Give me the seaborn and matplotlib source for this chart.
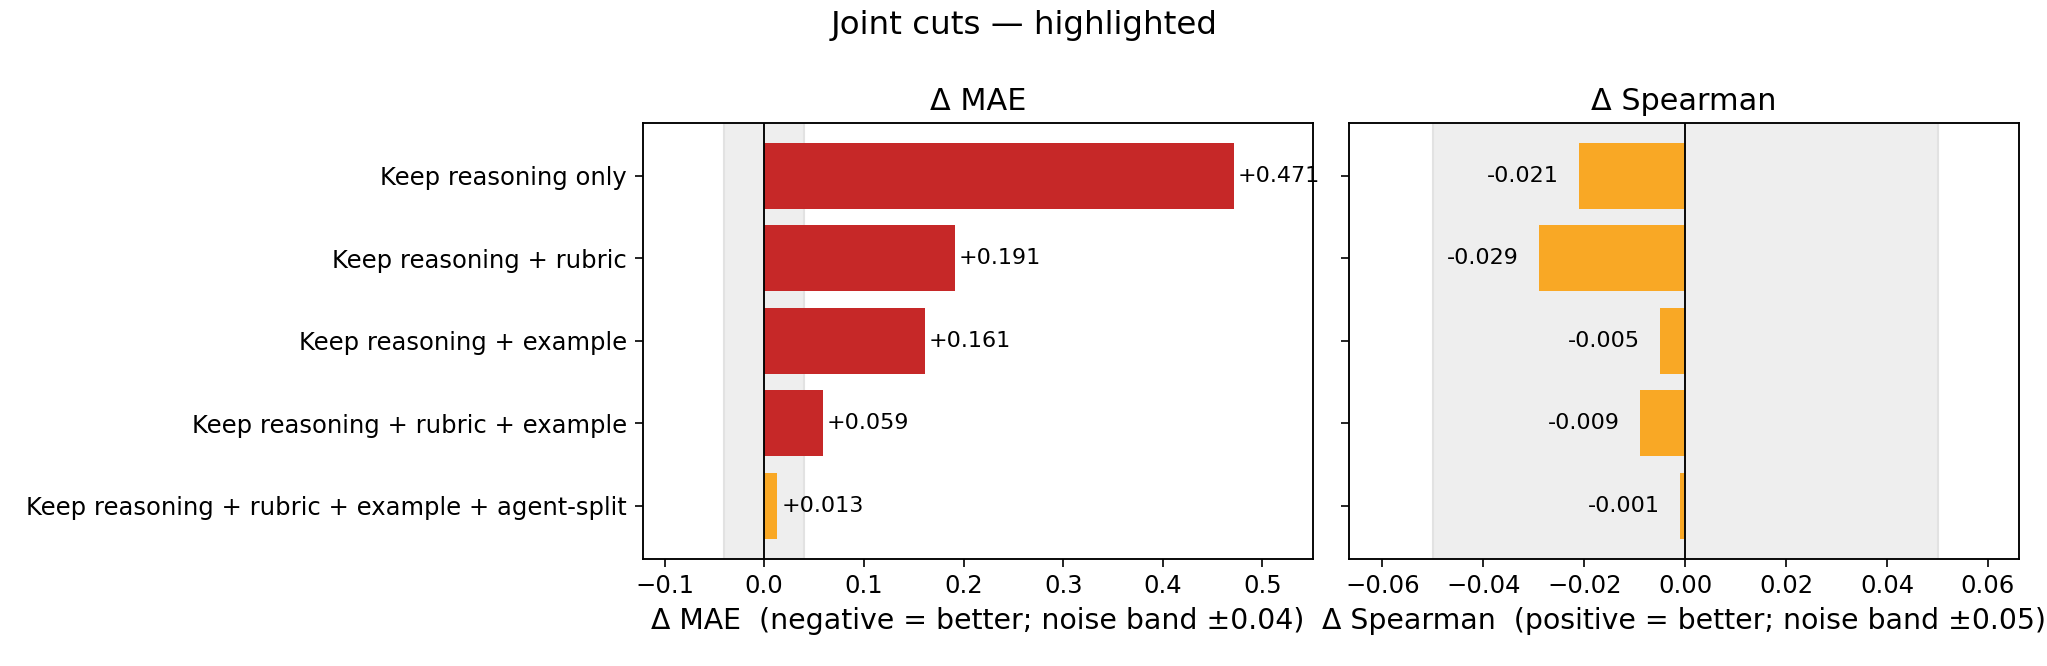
import numpy as np
import pandas as pd
import matplotlib
matplotlib.use("Agg")
import matplotlib.pyplot as plt
import seaborn as sns

# dane
variants = [
    "Keep reasoning only",
    "Keep reasoning + rubric",
    "Keep reasoning + example",
    "Keep reasoning + rubric + example",
    "Keep reasoning + rubric + example + agent-split",
]
delta_mae = [0.471, 0.191, 0.161, 0.059, 0.013]
delta_spearman = [-0.021, -0.029, -0.005, -0.009, -0.001]

mae_band = 0.04
spearman_band = 0.05

RED = "#c62828"
ORANGE = "#f9a825"

sns.set_style("white")
plt.rcParams["font.family"] = ["DejaVu Sans"]
plt.rcParams.update({
    "text.color": "black",
    "axes.labelcolor": "black",
    "xtick.color": "black",
    "ytick.color": "black",
})


def panel(ax, values, band, title, xlabel, xlim, worse_sign):
    df = pd.DataFrame({"variant": variants, "delta": values})
    # czerwony = wyraźnie gorzej (poza pasmem szumu), pomarańczowy = w paśmie
    df["status"] = np.where(np.sign(df["delta"]) * worse_sign * np.abs(df["delta"]) > band,
                            "worse", "noise")
    ax.axvspan(-band, band, color="#eeeeee", zorder=0, lw=1, ec="#e2e2e2")
    sns.barplot(data=df, y="variant", x="delta", hue="status",
                palette={"worse": RED, "noise": ORANGE},
                orient="h", width=0.8, legend=False, dodge=False,
                saturation=1, linewidth=0, ax=ax, zorder=2)
    ax.axvline(0, color="black", lw=0.9, zorder=3)
    for i, v in enumerate(df["delta"]):
        if v >= 0:
            ax.text(v + 0.004, i, f"{v:+.3f}", va="center", ha="left", fontsize=10.7)
        else:
            ax.text(v - 0.004, i, f"{v:+.3f}", va="center", ha="right", fontsize=10.7)
    ax.set_xlim(*xlim)
    ax.set_ylim(len(variants) - 1 + 0.64, -0.64)
    ax.set_title(title, fontsize=14.5)
    ax.set_xlabel(xlabel, fontsize=13.6)
    ax.set_ylabel("")
    ax.tick_params(axis="both", labelsize=11.65, length=4, bottom=True, left=True)
    for s in ax.spines.values():
        s.set_color("black")
        s.set_linewidth(0.9)


fig, axes = plt.subplots(1, 2, figsize=(13.653, 4.44), dpi=150, sharey=True)

panel(axes[0], delta_mae, mae_band, "Δ MAE",
      "Δ MAE  (negative = better; noise band ±0.04)", (-0.122, 0.551), 1)
panel(axes[1], delta_spearman, spearman_band, "Δ Spearman",
      "Δ Spearman  (positive = better; noise band ±0.05)", (-0.0667, 0.0662), -1)
axes[1].set_xticks([-0.06, -0.04, -0.02, 0.0, 0.02, 0.04, 0.06])

fig.suptitle("Joint cuts — highlighted", fontsize=15.6, y=0.985)
fig.subplots_adjust(left=0.3138, right=0.986, top=0.8157, bottom=0.161, wspace=0.0526)
fig.savefig("out.png", dpi=150)
